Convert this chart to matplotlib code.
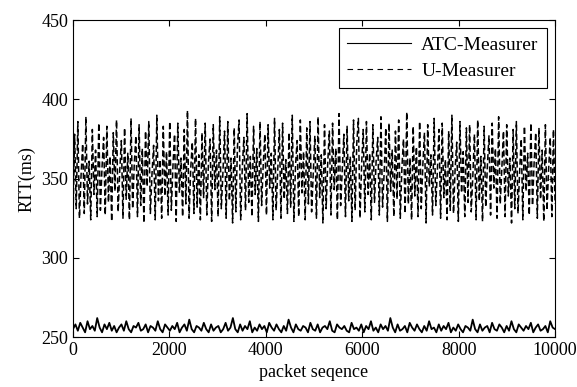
import matplotlib
matplotlib.use("Agg")
import matplotlib.pyplot as plt
import numpy as np

plt.rcParams['font.family'] = ['Liberation Serif', 'DejaVu Serif']

u_measurer = [
    323, 378, 331, 386, 325, 352, 372, 328, 389, 334, 361, 324, 381, 340, 368, 326, 385, 330, 357, 376,
    327, 383, 335, 364, 323, 379, 342, 387, 329, 355, 374, 325, 382, 337, 366, 324, 388, 331, 359, 377,
    326, 384, 333, 369, 322, 380, 345, 386, 328, 353, 371, 324, 390, 336, 362, 325, 383, 339, 367, 327,
    386, 330, 358, 378, 323, 385, 341, 363, 326, 381, 334, 393, 325, 356, 373, 328, 388, 332, 365, 324,
    379, 338, 385, 327, 360, 375, 323, 384, 343, 368, 326, 389, 331, 354, 380, 325, 386, 336, 363, 322,
    382, 329, 370, 387, 324, 357, 376, 330, 391, 335, 364, 326, 383, 340, 369, 323, 386, 333, 359, 378,
    327, 384, 344, 366, 324, 388, 330, 355, 381, 325, 385, 337, 362, 328, 379, 332, 390, 323, 358, 374,
    326, 387, 341, 367, 324, 382, 334, 386, 329, 353, 377, 325, 389, 338, 365, 322, 384, 331, 360, 380,
    327, 385, 343, 369, 324, 391, 333, 356, 378, 326, 383, 336, 364, 323, 387, 330, 372, 388, 325, 358,
    381, 329, 386, 340, 366, 324, 384, 335, 361, 376, 327, 389, 332, 354, 382, 323, 385, 342, 368, 326,
    380, 337, 387, 325, 357, 375, 328, 392, 334, 363, 324, 383, 339, 370, 326, 386, 331, 359, 379, 322,
    384, 345, 365, 327, 388, 333, 355, 381, 325, 385, 338, 362, 324, 380, 330, 390, 328, 356, 373, 323,
    386, 341, 367, 326, 382, 335, 384, 329, 352, 378, 324, 387, 336, 364, 323, 383, 332, 358, 377, 327,
    385, 344, 369, 325, 389, 334, 357, 380, 326, 384, 339, 363, 322, 381, 331, 386, 328, 354, 375, 324,
    383, 342, 366, 327, 385, 333, 360, 379, 325, 382, 337, 368, 323, 384, 330, 356, 376, 326, 381, 334,
]

atc_measurer = [
    255, 258, 254, 259, 256, 253, 260, 255, 257, 254, 262, 256, 253, 258, 255, 259, 254, 257, 253, 256,
    258, 254, 260, 255, 253, 257, 256, 259, 254, 255, 258, 253, 257, 256, 254, 260, 255, 253, 258, 256,
    254, 257, 255, 259, 253, 256, 258, 254, 261, 255, 253, 257, 256, 254, 259, 255, 253, 258, 254, 256,
    257, 253, 255, 259, 254, 256, 262, 255, 253, 258, 254, 257, 255, 260, 253, 256, 254, 258, 255, 257,
    253, 259, 256, 254, 258, 255, 253, 257, 254, 261, 256, 253, 258, 255, 254, 257, 256, 253, 259, 255,
    254, 258, 253, 256, 257, 255, 260, 254, 253, 258, 256, 255, 257, 254, 253, 259, 255, 256, 254, 258,
    253, 257, 255, 260, 254, 256, 253, 258, 255, 257, 254, 262, 256, 253, 258, 254, 255, 257, 253, 259,
    256, 254, 258, 255, 253, 257, 254, 260, 255, 256, 253, 258, 254, 257, 255, 259, 253, 256, 254, 258,
    255, 253, 257, 256, 254, 261, 255, 253, 258, 254, 256, 257, 253, 259, 255, 254, 258, 256, 253, 257,
    254, 260, 255, 253, 258, 256, 254, 257, 255, 259, 253, 256, 258, 254, 255, 257, 253, 260, 256, 255,
]

x_u = np.linspace(0, 10000, len(u_measurer))
x_atc = np.linspace(0, 10000, len(atc_measurer))

fig = plt.figure(figsize=(5.77, 3.87), dpi=100)
ax = fig.add_axes([0.1265, 0.129, 0.8355, 0.819])

ax.plot(x_atc, atc_measurer, color='black', linewidth=1.3, label='ATC-Measurer')
ax.plot(x_u, u_measurer, color='black', linewidth=1.1, linestyle=(0, (4, 2)),
        label='U-Measurer')

ax.set_xlim(0, 10000)
ax.set_ylim(250, 450)
ax.set_xticks([0, 2000, 4000, 6000, 8000, 10000])
ax.set_yticks([250, 300, 350, 400, 450])
ax.tick_params(direction='in', top=True, right=True, labelsize=13, length=4)
ax.set_xlabel('packet seqence', fontsize=13)
ax.set_ylabel('RTT(ms)', fontsize=13)

leg = ax.legend(loc='upper right', fontsize=14, fancybox=False, edgecolor='black',
                framealpha=1, handlelength=3.3, borderpad=0.45, labelspacing=0.4,
                handletextpad=0.5, borderaxespad=0.4)
leg.get_frame().set_linewidth(0.8)
for line in leg.get_lines():
    line.set_linewidth(0.8)
leg.get_lines()[1].set_dashes((5, 4))

fig.savefig('out.png', dpi=100)
